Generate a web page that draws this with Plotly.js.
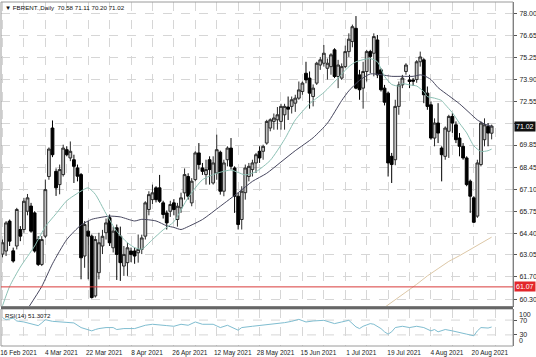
<!DOCTYPE html>
<html><head><meta charset="utf-8">
<script src="https://cdn.plot.ly/plotly-3.0.1.min.js"></script>
<style>html,body{margin:0;padding:0;background:#fff;}#chart{width:536px;height:357px;}</style>
</head><body><div id="chart"></div>
<script>
const dates = ['2021-02-16','2021-02-17','2021-02-18','2021-02-19','2021-02-22','2021-02-23','2021-02-24','2021-02-25','2021-02-26',
'2021-03-01','2021-03-02','2021-03-03','2021-03-04','2021-03-05','2021-03-08','2021-03-09','2021-03-10','2021-03-11','2021-03-12',
'2021-03-15','2021-03-16','2021-03-17','2021-03-18','2021-03-19','2021-03-22','2021-03-23','2021-03-24','2021-03-25','2021-03-26',
'2021-03-29','2021-03-30','2021-03-31','2021-04-01','2021-04-05','2021-04-06','2021-04-07','2021-04-08','2021-04-09',
'2021-04-12','2021-04-13','2021-04-14','2021-04-15','2021-04-16','2021-04-19','2021-04-20','2021-04-21','2021-04-22','2021-04-23',
'2021-04-26','2021-04-27','2021-04-28','2021-04-29','2021-04-30','2021-05-03','2021-05-04','2021-05-05','2021-05-06','2021-05-07',
'2021-05-10','2021-05-11','2021-05-12','2021-05-13','2021-05-14','2021-05-17','2021-05-18','2021-05-19','2021-05-20','2021-05-21',
'2021-05-24','2021-05-25','2021-05-26','2021-05-27','2021-05-28','2021-05-31','2021-06-01','2021-06-02','2021-06-03','2021-06-04',
'2021-06-07','2021-06-08','2021-06-09','2021-06-10','2021-06-11','2021-06-14','2021-06-15','2021-06-16','2021-06-17','2021-06-18',
'2021-06-21','2021-06-22','2021-06-23','2021-06-24','2021-06-25','2021-06-28','2021-06-29','2021-06-30','2021-07-01','2021-07-02',
'2021-07-05','2021-07-06','2021-07-07','2021-07-08','2021-07-09','2021-07-12','2021-07-13','2021-07-14','2021-07-15','2021-07-16',
'2021-07-19','2021-07-20','2021-07-21','2021-07-22','2021-07-23','2021-07-26','2021-07-27','2021-07-28','2021-07-29','2021-07-30',
'2021-08-02','2021-08-03','2021-08-04','2021-08-05','2021-08-06','2021-08-09','2021-08-10','2021-08-11','2021-08-12','2021-08-13',
'2021-08-16','2021-08-17','2021-08-18','2021-08-19','2021-08-20','2021-08-23','2021-08-24','2021-08-25','2021-08-26','2021-08-27'];
// empty future slots kept on the time axis to the right of the last bar
const futureDates = ['2021-08-30','2021-08-31','2021-09-01','2021-09-02','2021-09-03','2021-09-06'];

const open = [63.1,63.29,65.14,63.3,63.6,64.62,64.62,65.75,66.07,65.65,64.0,62.46,64.21,67.9,70.9,68.22,67.4,68.02,69.56,69.05,
68.94,68.43,68.02,62.98,64.52,64.21,60.51,61.95,63.6,64.42,65.35,63.49,64.73,64.21,62.36,62.57,63.29,63.29,63.18,63.39,
64.21,65.86,66.47,67.2,67.2,66.27,65.65,65.75,66.27,65.24,65.96,66.89,67.9,66.27,67.71,69.36,68.43,68.02,68.94,67.5,
68.12,69.4,66.99,68.94,69.66,68.43,66.68,65.24,66.9,67.9,68.33,68.74,69.46,69.46,69.97,70.9,71.31,71.41,71.31,71.72,
72.2,72.24,72.44,72.75,73.16,74.29,73.99,72.85,73.68,74.8,74.91,74.6,74.7,75.74,74.09,73.99,74.7,75.63,76.25,77.07,
74.19,73.37,74.4,75.63,75.53,76.35,74.5,73.37,73.06,69.15,68.94,72.24,73.57,74.4,73.88,73.88,73.9,75.0,75.12,73.06,
72.34,70.28,71.21,69.66,69.15,70.7,71.62,71.1,70.28,69.77,69.05,67.61,66.58,65.45,68.64,70.18,71.0,70.58];
const high = [64.0,65.14,65.24,63.5,65.96,64.83,66.58,66.82,66.27,65.75,64.21,64.21,67.71,69.7,71.37,68.4,68.64,69.87,69.77,70.07,
69.25,68.64,68.12,65.14,65.14,64.31,64.21,64.42,64.6,65.3,65.55,64.8,64.93,64.8,63.6,63.8,63.5,63.5,64.31,64.3,
66.37,66.99,67.4,67.3,68.0,66.4,65.8,66.4,66.5,66.27,66.9,68.4,68.1,67.8,69.46,69.97,68.74,68.94,69.15,69.15,
70.49,69.5,68.94,69.77,70.28,68.53,66.9,67.3,68.64,68.74,68.94,69.36,69.77,69.87,71.41,71.5,71.8,72.2,72.4,72.4,
72.85,72.85,72.96,73.78,73.78,75.0,74.4,73.6,75.0,75.3,76.04,75.2,75.53,75.84,75.12,74.9,76.0,76.76,77.3,77.83,
74.5,75.0,75.74,75.74,76.76,76.66,74.6,73.57,73.16,69.36,72.65,73.78,74.19,74.91,74.19,74.0,75.1,75.63,75.22,73.47,
72.55,71.5,72.44,69.77,71.0,71.72,71.82,71.31,70.59,69.97,69.15,67.71,66.68,68.94,71.31,71.5,71.21,71.11];
const low = [62.9,62.98,63.6,62.57,63.39,63.9,64.42,65.5,64.42,63.19,62.36,62.36,64.1,67.7,69.1,66.7,66.8,67.9,69.15,68.85,
67.5,67.6,61.54,62.25,61.54,60.35,60.41,61.54,63.1,64.0,63.6,63.2,61.5,61.44,61.75,61.75,62.6,62.5,62.57,63.1,
64.0,65.5,66.2,66.3,66.27,65.3,64.62,65.4,65.5,64.8,65.65,66.47,66.47,66.06,67.6,68.33,68.0,67.4,67.4,67.4,
67.7,66.78,66.68,68.53,68.33,65.65,64.62,64.62,66.47,67.6,67.9,68.12,68.74,68.94,69.87,70.7,70.8,70.8,70.8,70.8,
71.4,71.8,71.9,72.65,72.96,73.67,72.1,72.24,73.57,74.5,74.7,73.9,74.2,73.99,73.37,73.88,74.6,75.3,75.9,73.3,
72.65,72.1,73.78,74.3,74.1,73.99,73.16,72.3,67.9,67.5,68.6,71.72,73.37,74.2,73.37,73.5,73.7,74.7,72.44,72.03,
70.18,69.77,69.97,67.6,68.94,69.05,70.6,69.97,69.15,68.94,67.3,65.65,65.03,65.34,68.53,69.77,69.77,70.20];
const close = [63.8,65.03,63.9,62.67,65.86,64.21,66.37,66.58,64.52,63.29,62.46,64.0,67.09,69.6,69.25,67.2,68.33,69.66,69.25,69.46,
68.53,67.92,62.87,64.93,64.21,60.41,64.0,63.8,64.2,65.03,63.8,64.52,63.08,62.57,63.08,63.49,63.08,62.98,63.39,64.1,
66.27,66.78,66.89,66.47,66.37,65.55,65.03,66.17,65.86,66.06,66.58,68.02,66.68,67.61,69.36,68.64,68.22,68.33,68.33,68.74,
69.56,66.99,68.74,69.66,68.53,66.68,64.93,66.99,68.43,68.53,68.74,69.25,69.05,69.77,71.31,71.41,71.52,71.72,72.24,72.24,
72.07,72.65,72.75,73.26,73.68,73.88,73.06,73.37,74.91,75.12,75.53,74.91,75.43,74.09,74.8,74.7,75.63,76.4,77.17,73.37,
73.27,74.4,75.63,75.32,76.56,74.19,73.27,72.5,68.74,68.64,72.24,73.57,73.99,74.8,73.78,73.8,75.0,75.3,72.96,72.24,
70.28,71.21,70.59,69.25,70.9,71.62,71.21,70.18,69.77,69.05,67.4,66.68,65.07,68.74,71.21,71.1,70.59,71.02];

// moving averages: bar index -> value
const fastIdx = [0,2,5,9,12,15,18,22,24,26,29,32,35,37,39,42,45,48,52,56,60,64,66,68,71,75,79,82,86,90,94,97,99,103,105,107,109,111,112,114,116,118,119,121,123,124,126,128,130,132,134,136,137];
const fastVal = [59.9,61.1,62.3,63.6,64.8,65.6,66.4,67.0,67.2,66.8,65.6,64.5,63.8,63.5,63.4,64.0,64.6,65.1,66.6,67.7,68.1,68.3,68.15,68.0,68.2,68.9,70.2,71.4,72.4,73.1,74.0,74.7,75.0,75.2,75.0,74.1,73.6,73.5,73.65,73.57,73.5,73.15,72.85,72.75,72.6,72.35,71.85,71.2,70.6,69.8,69.45,69.5,69.6];
const slowIdx = [7,11,14,18,22,25,27,30,33,37,39,43,46,48,50,52,56,61,66,70,74,78,82,87,91,95,97,100,103,106,109,112,115,117,118,120,122,125,128,131,133,135,137];
const slowVal = [59.7,61.1,62.5,64.0,64.9,65.25,65.35,65.45,65.4,65.15,65.25,65.15,64.85,64.75,64.62,64.8,65.24,66.06,66.9,67.6,68.1,68.8,69.5,70.3,71.2,72.6,73.2,73.85,74.25,74.2,74.1,74.1,74.1,74.19,74.15,73.9,73.4,72.9,72.4,71.8,71.4,71.15,71.0];
const longIdx = [107,110,113,116,119,122,125,128,131,134,137];
const longVal = [59.8,60.25,60.75,61.23,61.75,62.2,62.65,63.0,63.4,63.8,64.15];

const rsiIdx = [0,1,3,4,6,8,10,11,12,14,16,17,20,22,23,25,26,27,29,31,32,34,37,38,40,42,44,46,48,50,52,54,56,59,61,63,66,67,70,73,76,79,81,83,85,87,90,93,95,97,99,100,101,103,104,106,107,108,109,110,112,114,116,118,120,121,122,124,126,128,130,132,133,134,135,136,137];
const rsiVal = [76.5,71,75.5,67.6,64.9,60.5,55,62.3,71.1,66.7,64.9,64,62.3,49.8,47.1,40.9,44.5,47.1,49.8,49.8,44.5,47.1,47.1,49.8,56,58.7,56,55.1,53.3,58.7,56,64.9,58.7,58.7,49.8,56,42.7,49.8,53.3,56,60.5,63.1,66.7,72,64.9,67.6,69.4,60.5,64.9,69.4,51.6,47.1,53.3,60.5,58.7,47.1,38.3,32,38.3,49.8,53.3,49.8,53.3,49.8,40.9,44.5,38.3,44.5,40.9,35.6,32,27.6,40.9,49.8,49.8,48.5,51.3072];

const priceTicks = [78.00,76.65,75.25,73.90,72.55,71.20,69.85,68.45,67.10,65.75,64.40,63.05,61.70,60.30];
const priceTickText = ['78.00','76.65','75.25','73.90','72.55','','69.85','68.45','67.10','65.75','64.40','63.05','61.70','60.30'];
const dateTickIdx = [0,6,12,18,24,30,36,42,48,54,60,66,72,78,84,90,96,102,108,114,120,126,132];
const dateTickText = ['16 Feb 2021','','4 Mar 2021','','22 Mar 2021','','8 Apr 2021','','26 Apr 2021','','12 May 2021','','28 May 2021','','15 Jun 2021','','1 Jul 2021','','19 Jul 2021','','4 Aug 2021','','20 Aug 2021'];
const levelPrice = 61.07;
const rsiLevels = [30,70];
const symbolName = 'FBRENT.,Daily';
const rsiName = 'RSI(14)';

const last = close.length - 1;
const F = 'Liberation Sans, Arial, sans-serif';
const pick = idx => idx.map(i => dates[i]);
const allSlots = dates.concat(futureDates);

const traces = [
  {type:'candlestick', x:dates, open:open, high:high, low:low, close:close, xaxis:'x', yaxis:'y',
   increasing:{line:{color:'#2a2a2a', width:1}, fillcolor:'#c4c4c4'},
   decreasing:{line:{color:'#000000', width:1}, fillcolor:'#000000'},
   whiskerwidth:0, hoverinfo:'skip'},
  {type:'scatter', mode:'lines', x:pick(longIdx), y:longVal, line:{color:'#dcc7a6', width:1}, hoverinfo:'skip', xaxis:'x', yaxis:'y'},
  {type:'scatter', mode:'lines', x:pick(slowIdx), y:slowVal, line:{color:'#46465e', width:1, shape:'spline', smoothing:0.6}, hoverinfo:'skip', xaxis:'x', yaxis:'y'},
  {type:'scatter', mode:'lines', x:pick(fastIdx), y:fastVal, line:{color:'#8cc0b4', width:1, shape:'spline', smoothing:0.6}, hoverinfo:'skip', xaxis:'x', yaxis:'y'},
  {type:'scatter', mode:'lines', x:pick(rsiIdx), y:rsiVal, line:{color:'#7fbdd0', width:1}, hoverinfo:'skip', xaxis:'x', yaxis:'y2'}
];

const mainBottom = 0.1148, rsiTop = 0.1076;
const gridC = '#d6d6d6';
const layout = {
  width:536, height:357,
  margin:{l:1, r:23, t:2, b:11, pad:0},
  paper_bgcolor:'#ffffff', plot_bgcolor:'#ffffff',
  showlegend:false, hovermode:false,
  boxgap:0.22, boxgroupgap:0,
  xaxis:{type:'category', categoryorder:'array', categoryarray:allSlots, range:[-0.42,142.98],
    anchor:'y2', tickvals:dateTickIdx.map(i => allSlots[i]).concat([allSlots[138]]), ticktext:dateTickText.concat(['']), ticks:'',
    showgrid:true, gridcolor:gridC, griddash:'dash', gridwidth:1, zeroline:false, showline:false,
    tickfont:{family:F, size:6.5, color:'#1a1a1a'}, ticklabelshift:16, ticklabelstandoff:1,
    rangeslider:{visible:false}, fixedrange:true},
  yaxis:{domain:[mainBottom,1], range:[59.856,78.70], side:'right', tickvals:priceTicks, ticktext:priceTickText,
    showgrid:true, gridcolor:gridC, griddash:'dash', gridwidth:1, zeroline:false,
    ticks:'outside', ticklen:3, tickcolor:'#555', showline:true, linecolor:'#666', linewidth:1,
    tickfont:{family:F, size:7, color:'#1a1a1a'}, ticklabelstandoff:1, fixedrange:true},
  yaxis2:{domain:[0,rsiTop], range:[0,100], side:'right', tickvals:rsiLevels, ticktext:rsiLevels.map(String),
    showgrid:false, zeroline:false, ticks:'outside', ticklen:3, tickcolor:'#555', showline:true, linecolor:'#666',
    tickfont:{family:F, size:7, color:'#1a1a1a'}, ticklabelstandoff:1, fixedrange:true},
  shapes:[
    {type:'rect', xref:'paper', yref:'paper', x0:0, x1:1, y0:mainBottom, y1:1, line:{color:'#9a9a9a', width:1}},
    {type:'rect', xref:'paper', yref:'paper', x0:0, x1:1, y0:0, y1:rsiTop, line:{color:'#9a9a9a', width:1}},
    {type:'line', xref:'paper', yref:'paper', x0:0, x1:1, y0:(mainBottom+rsiTop)/2, y1:(mainBottom+rsiTop)/2, line:{color:'#666666', width:2.5}},
    {type:'line', xref:'paper', yref:'y', x0:0, x1:1, y0:levelPrice, y1:levelPrice, line:{color:'#d83a3a', width:1}},
    ...rsiLevels.map(v => ({type:'line', xref:'paper', yref:'y2', x0:0, x1:1, y0:v, y1:v, line:{color:gridC, width:1, dash:'dash'}, layer:'below'}))
  ],
  annotations:[
    {xref:'paper', yref:'paper', x:0, y:1, xanchor:'left', yanchor:'top', xshift:2, yshift:0, showarrow:false,
     text:'▼ ' + symbolName + '  ' + [open[last],high[last],low[last],close[last]].map(v=>v.toFixed(2)).join(' '),
     font:{family:F, size:6.2, color:'#111'}},
    {xref:'paper', yref:'paper', x:0, y:rsiTop, xanchor:'left', yanchor:'top', xshift:2, yshift:-1, showarrow:false,
     text:rsiName + ' ' + rsiVal[rsiVal.length-1].toFixed(4), font:{family:F, size:6.2, color:'#111'}},
    {xref:'paper', yref:'y', x:1, y:close[last], xanchor:'left', yanchor:'middle', xshift:1, showarrow:false,
     text:close[last].toFixed(2), bgcolor:'#111111', borderpad:1, font:{family:F, size:7, color:'#ffffff'}},
    {xref:'paper', yref:'y', x:1, y:levelPrice, xanchor:'left', yanchor:'middle', xshift:1, showarrow:false,
     text:levelPrice.toFixed(2), bgcolor:'#e3262b', borderpad:1, font:{family:F, size:7, color:'#ffffff'}},
    {xref:'paper', yref:'y2', x:1, y:100, xanchor:'left', yanchor:'top', xshift:4, showarrow:false,
     text:'100', font:{family:F, size:7, color:'#1a1a1a'}},
    {xref:'paper', yref:'y2', x:1, y:0, xanchor:'left', yanchor:'bottom', xshift:4, showarrow:false,
     text:'0', font:{family:F, size:7, color:'#1a1a1a'}}
  ]
};
Plotly.newPlot('chart', traces, layout, {staticPlot:true, displayModeBar:false});
</script></body></html>
